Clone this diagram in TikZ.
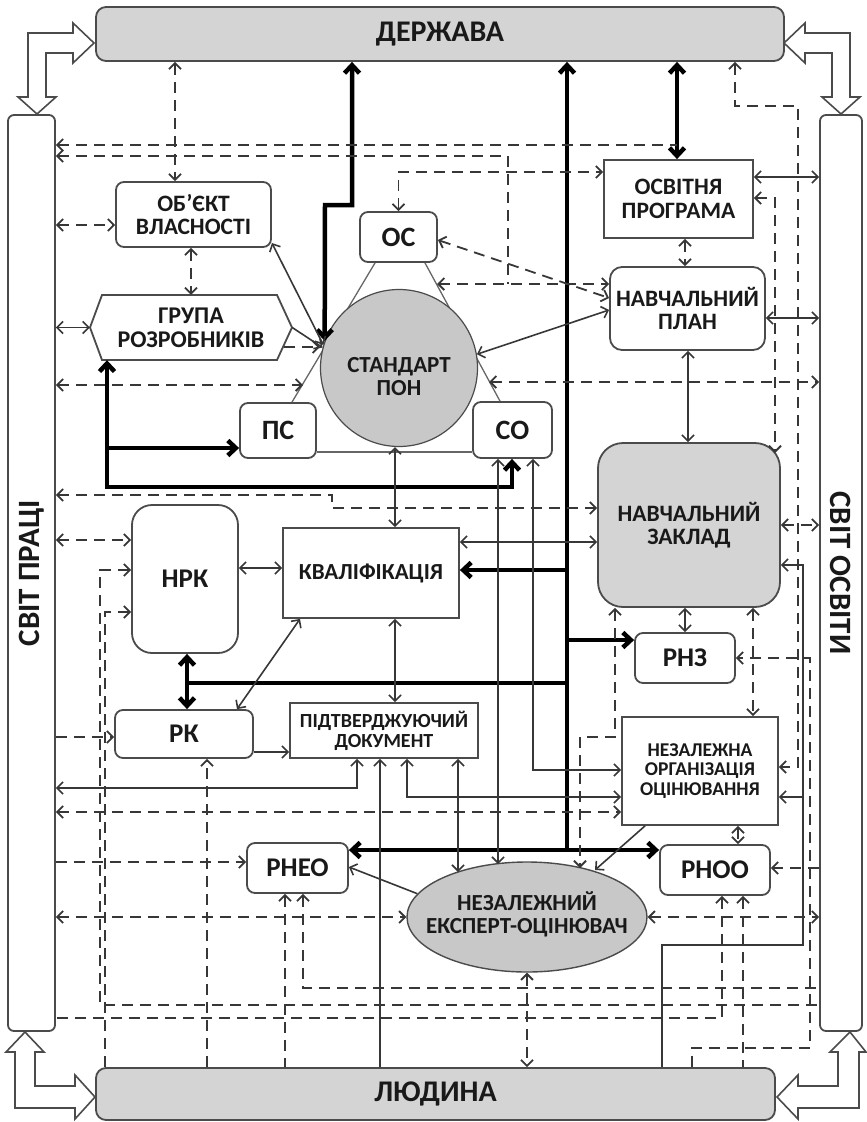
\documentclass[tikz,border=0pt]{standalone}
\usepackage{fontspec}
\setmainfont{Carlito}
\usetikzlibrary{arrows.meta,shapes.geometric}
\definecolor{lineGray}{RGB}{55,55,55}
\definecolor{boxGray}{RGB}{75,75,75}
\definecolor{fillGray}{RGB}{212,212,212}
\definecolor{circGray}{RGB}{200,200,200}
\newcommand{\fsz}[1]{\fontsize{#1}{#1}\selectfont}

\begin{document}
\begin{tikzpicture}[
    x=1pt,y=-1pt,
    >={Straight Barb[length=6pt,width=12pt]},
    box/.style={draw=boxGray,line width=1.8pt,fill=white,align=center,inner sep=0pt,text=black!90,font=\bfseries\fsz{23}},
    rbox/.style={box,rounded corners=8pt},
    gbox/.style={box,fill=fillGray,rounded corners=10pt,font=\bfseries\fsz{30}},
    bar/.style={draw=boxGray,line width=1.8pt,fill=white,rounded corners=6pt},
    txt/.style={align=center,inner sep=0pt,text=black!90,font=\bfseries\fsz{23}},
    ln/.style={draw=lineGray,line width=1.6pt},
    thk/.style={draw=black,line width=4.5pt,>={Straight Barb[length=8pt,width=15pt]}},
    dsh/.style={draw=lineGray,line width=1.8pt,dash pattern=on 11pt off 7pt},
    tri/.style={draw=gray!80!black,line width=1.3pt},
    wide/.style={draw=boxGray,fill=white,line width=1.6pt,line join=miter}
  ]
  \useasboundingbox (0,0) rectangle (867,1122);

  % frame
  \node[gbox,minimum width=688pt,minimum height=54pt] (dz) at (440,34) {ДЕРЖАВА};
  \node[gbox,minimum width=679pt,minimum height=52pt] (ld) at (435.5,1094) {ЛЮДИНА};
  \node[bar,minimum width=47pt,minimum height=916pt] (sp) at (31.5,573) {};
  \node[bar,minimum width=42pt,minimum height=916pt] (so) at (841,573) {};
  \node[txt,font=\bfseries\fsz{31},rotate=90] (spTxt) at (sp) {СВІТ ПРАЦІ};
  \node[txt,font=\bfseries\fsz{31},rotate=-90] (soTxt) at (so) {СВІТ ОСВІТИ};

  \draw[wide] (37,114) -- (56,97) -- (46,97) -- (46,53) -- (73,53) -- (73,63) -- (94,43) -- (73,23) -- (73,33) -- (28,33) -- (28,97) -- (18,97) -- cycle;
  \draw[wide] (841,114) -- (860,97) -- (850,97) -- (850,33) -- (805,33) -- (805,23) -- (784,43) -- (805,63) -- (805,53) -- (832,53) -- (832,97) -- (822,97) -- cycle;
  \draw[wide] (25,1032) -- (44,1052) -- (35,1052) -- (35,1086) -- (75,1086) -- (75,1075) -- (95,1097) -- (75,1119) -- (75,1108) -- (15,1108) -- (15,1052) -- (6,1052) -- cycle;
  \draw[wide] (850,1032) -- (866,1052) -- (859,1052) -- (859,1108) -- (798,1108) -- (798,1119) -- (777,1097) -- (798,1075) -- (798,1086) -- (838,1086) -- (838,1052) -- (830,1052) -- cycle;

  % nodes
  \node[rbox,font=\bfseries\fsz{23.5},minimum width=155pt,minimum height=65pt] (ov) at (193.5,214.5) {ОБ’ЄКТ\\ВЛАСНОСТІ};
  \draw[box] (90,327.5) -- (102,295) -- (277,295) -- (292,327.5) -- (277,360) -- (102,360) -- cycle;
  \node[txt,font=\bfseries\fsz{24},minimum width=202pt,minimum height=65pt] (gr) at (191,327.5) {ГРУПА\\РОЗРОБНИКІВ};
  \node[rbox,font=\bfseries\fsz{28},minimum width=77pt,minimum height=50pt] (oc) at (398.5,237) {ОС};
  \node[rbox,font=\bfseries\fsz{28},minimum width=76pt,minimum height=55pt] (ps) at (278,430.5) {ПС};
  \node[rbox,font=\bfseries\fsz{28},minimum width=79pt,minimum height=56pt] (co) at (512.5,430) {СО};
  \draw[tri] (oc.south -| 375,0) -- (ps.north -| 292,0);
  \draw[tri] (oc.south -| 425,0) -- (co.north -| 500,0);
  \draw[tri] (ps.east |- 0,452) -- (co.west |- 0,452);
  \node[circle,draw=boxGray,line width=1.2pt,fill=circGray,minimum size=157pt,inner sep=0pt] (st) at (399,368) {};
  \node[txt] (stTxt) at (399,377) {СТАНДАРТ\\ПОН};
  \node[box,font=\bfseries\fsz{23.5},minimum width=149pt,minimum height=78pt] (op) at (678.5,199) {ОСВІТНЯ\\ПРОГРАМА};
  \node[rbox,font=\bfseries\fsz{23.5},minimum width=155pt,minimum height=83pt,rounded corners=12pt] (np) at (687.5,308.5) {НАВЧАЛЬНИЙ\\ПЛАН};
  \node[box,fill=fillGray,font=\bfseries\fsz{23.5},rounded corners=25pt,minimum width=182pt,minimum height=164pt] (nz) at (689,525) {НАВЧАЛЬНИЙ\\ЗАКЛАД};
  \node[rbox,font=\bfseries\fsz{27},minimum width=100pt,minimum height=50pt] (rnz) at (685,658) {РНЗ};
  \node[box,font=\bfseries\fsz{19.5},minimum width=156pt,minimum height=108pt] (noo) at (700,771) {НЕЗАЛЕЖНА\\ОРГАНІЗАЦІЯ\\ОЦІНЮВАННЯ};
  \node[rbox,font=\bfseries\fsz{27},minimum width=110pt,minimum height=50pt] (rnoo) at (715,870) {РНОО};
  \node[ellipse,draw=boxGray,line width=1.4pt,fill=circGray,minimum width=240pt,minimum height=110pt,inner sep=0pt] (ex) at (527,917) {};
  \node[txt] (exTxt) at (527,914) {НЕЗАЛЕЖНИЙ\\ЕКСПЕРТ-ОЦІНЮВАЧ};
  \node[rbox,font=\bfseries\fsz{27},minimum width=101pt,minimum height=50pt] (rneo) at (297.5,868) {РНЕО};
  \node[rbox,font=\bfseries\fsz{27},minimum width=138pt,minimum height=48pt] (rk) at (184,734) {РК};
  \node[rbox,font=\bfseries\fsz{27},rounded corners=20pt,minimum width=106pt,minimum height=148pt] (nrk) at (185,579) {НРК};
  \node[box,minimum width=176pt,minimum height=90pt] (kv) at (371,573) {КВАЛІФІКАЦІЯ};
  \node[box,font=\bfseries\fsz{20},minimum width=188pt,minimum height=55pt] (pd) at (384,730.5) {ПІДТВЕРДЖУЮЧИЙ\\ДОКУМЕНТ};

  % thick lines
  \draw[thk,<->] (dz.south -| 352,0) |- (325,205) -- (st.160);
  \draw[thk,<-] (dz.south -| 567,0) -- (567,850);
  \draw[thk,<->] (dz.south -| 677,0) -- (op.north -| 677,0);
  \draw[thk,->] (567,570) -- (kv.east |- 0,570);
  \draw[thk,->] (567,640) -- (rnz.west |- 0,640);
  \draw[thk] (567,683) -- (187,683);
  \draw[thk,<->] (nrk.south -| 187,0) -- (rk.north -| 187,0);
  \draw[thk,<->] (rneo.east |- 0,850) -- (rnoo.west |- 0,850);
  \draw[thk,<->] (gr.south -| 107,0) |- (512,487) -- (co.south -| 512,0);
  \draw[thk,->] (107,448) -- (ps.west |- 0,448);

  % solid lines
  \draw[ln,<->] (ov.-20) -- (st.163);
  \draw[ln,->] (gr.east) -- (st.165);
  \draw[ln,<->] (st.10) -- (np.west |- 0,310);
  \draw[ln,<->] (sp.east |- gr.west) -- (gr.west);
  \draw[ln,<->] (nrk.east |- 0,568) -- (kv.west |- 0,568);
  \draw[ln,<->] (st.south -| 395,0) -- (kv.north -| 395,0);
  \draw[ln,<->] (kv.south -| 395,0) -- (pd.north -| 395,0);
  \draw[ln,<->] (rk.north -| 237,0) -- (kv.south -| 300,0);
  \draw[ln,->] (rk.east |- 0,752) -- (pd.west |- 0,752);
  \draw[ln,<->] (sp.east |- 0,788) -| (pd.south -| 357,0);
  \draw[ln,<->] (pd.south -| 407,0) |- (noo.west |- 0,797);
  \draw[ln,->] (ld.north -| 380,0) -- (pd.south -| 380,0);
  \draw[ln,<->] (pd.south -| 458,0) -- (458,872);
  \draw[ln,<->] (co.south -| 498,0) -- (498,864);
  \draw[ln,<->] (co.south -| 533,0) |- (noo.west |- 0,770);
  \draw[ln,<->] (kv.east |- 0,542) -- (nz.west |- 0,542);
  \draw[ln,<->] (nz.south -| 685,0) -- (rnz.north -| 685,0);
  \draw[ln,->] (ld.north -| 662,0) |- (803,945) |- (nz.east |- 0,565);
  \draw[ln,->] (803,797) -- (noo.east |- 0,797);
  \draw[ln,->] (ex.168) -- (rneo.east |- 0,867);
  \draw[ln,->] (noo.south -| 645,0) -- (595,870);
  \draw[ln,<->] (op.east |- 0,177) -- (so.west |- 0,177);
  \draw[ln,<->] (np.east |- 0,318) -- (so.west |- 0,318);
  \draw[ln,<->] (np.south -| 688,0) -- (nz.north -| 688,0);

  % dashed lines
  \draw[dsh,<->] (dz.south -| 175,0) -- (ov.north -| 175,0);
  \draw[dsh,<->] (dz.south -| 735,0) |- (798,106) |- (noo.east |- 0,767);
  \draw[dsh,<-] (sp.east |- 0,145) -- (677,145);
  \draw[dsh,<-] (sp.east |- 0,156) -| (508,284);
  \draw[dsh,<->] (437,284) -- (np.west |- 0,284);
  \draw[dsh,<->] (oc.north) |- (op.west |- 0,172);
  \draw[dsh,<->] (oc.east |- 0,240) -- (np.west |- 0,298);
  \draw[dsh,<->] (ov.south -| 191,0) -- (gr.north -| 191,0);
  \draw[dsh,->] (284,347) -- (st.west |- 0,347);
  \draw[dsh,<->] (sp.east |- 0,225) -- (ov.west |- 0,225);
  \draw[dsh,<->] (sp.east |- 0,385) -- (303,385);
  \draw[dsh,<->] (489,382) -- (so.west |- 0,382);
  \draw[dsh,<->] (sp.east |- 0,495) -| (332,508) -- (nz.west |- 0,508);
  \draw[dsh,<->] (sp.east |- 0,540) -- (nrk.west |- 0,540);
  \draw[dsh,<-] (nrk.west |- 0,570) -| (100,1005) -- (so.west |- 0,1005);
  \draw[dsh,->] (ld.north -| 105,0) |- (nrk.west |- 0,612);
  \draw[dsh,->] (sp.east |- 0,737) -- (rk.west |- 0,737);
  \draw[dsh,->] (ld.north -| 207,0) -- (rk.south -| 207,0);
  \draw[dsh,<->] (sp.east |- 0,812) -- (noo.west |- 0,812);
  \draw[dsh,<->] (nz.south -| 615,0) |- (580,737) -- (580,868);
  \draw[dsh,<->] (nz.south -| 753,0) -- (noo.north -| 753,0);
  \draw[dsh,->] (ld.north -| 692,0) |- (810,1048) |- (rnz.east);
  \draw[dsh,<->] (op.east |- 0,198) -| (775,453);
  \draw[dsh,<->] (nz.east |- 0,525) -- (so.west |- 0,525);
  \draw[dsh,<->] (op.south -| 685,0) -- (np.north -| 685,0);
  \draw[dsh,->] (sp.east |- 0,862) -- (rneo.west |- 0,862);
  \draw[dsh,<->] (sp.east |- ex.west) -- (ex.west);
  \draw[dsh,<->] (ex.east) -- (so.west |- ex.east);
  \draw[dsh,->] (so.west |- 0,868) -- (rnoo.east |- 0,868);
  \draw[dsh,<->] (noo.south -| 738,0) -- (rnoo.north -| 738,0);
  \draw[dsh,<-] (rnoo.south -| 722,0) |- (sp.east |- 0,1018);
  \draw[dsh,<-] (rneo.south -| 303,0) |- (so.west |- 0,988);
  \draw[dsh,<-] (rneo.south -| 285,0) -- (ld.north -| 285,0);
  \draw[dsh,<-] (rnoo.south -| 743,0) -- (ld.north -| 743,0);
  \draw[dsh,<->] (ex.south) -- (ld.north -| ex.south);
\end{tikzpicture}
\end{document}
